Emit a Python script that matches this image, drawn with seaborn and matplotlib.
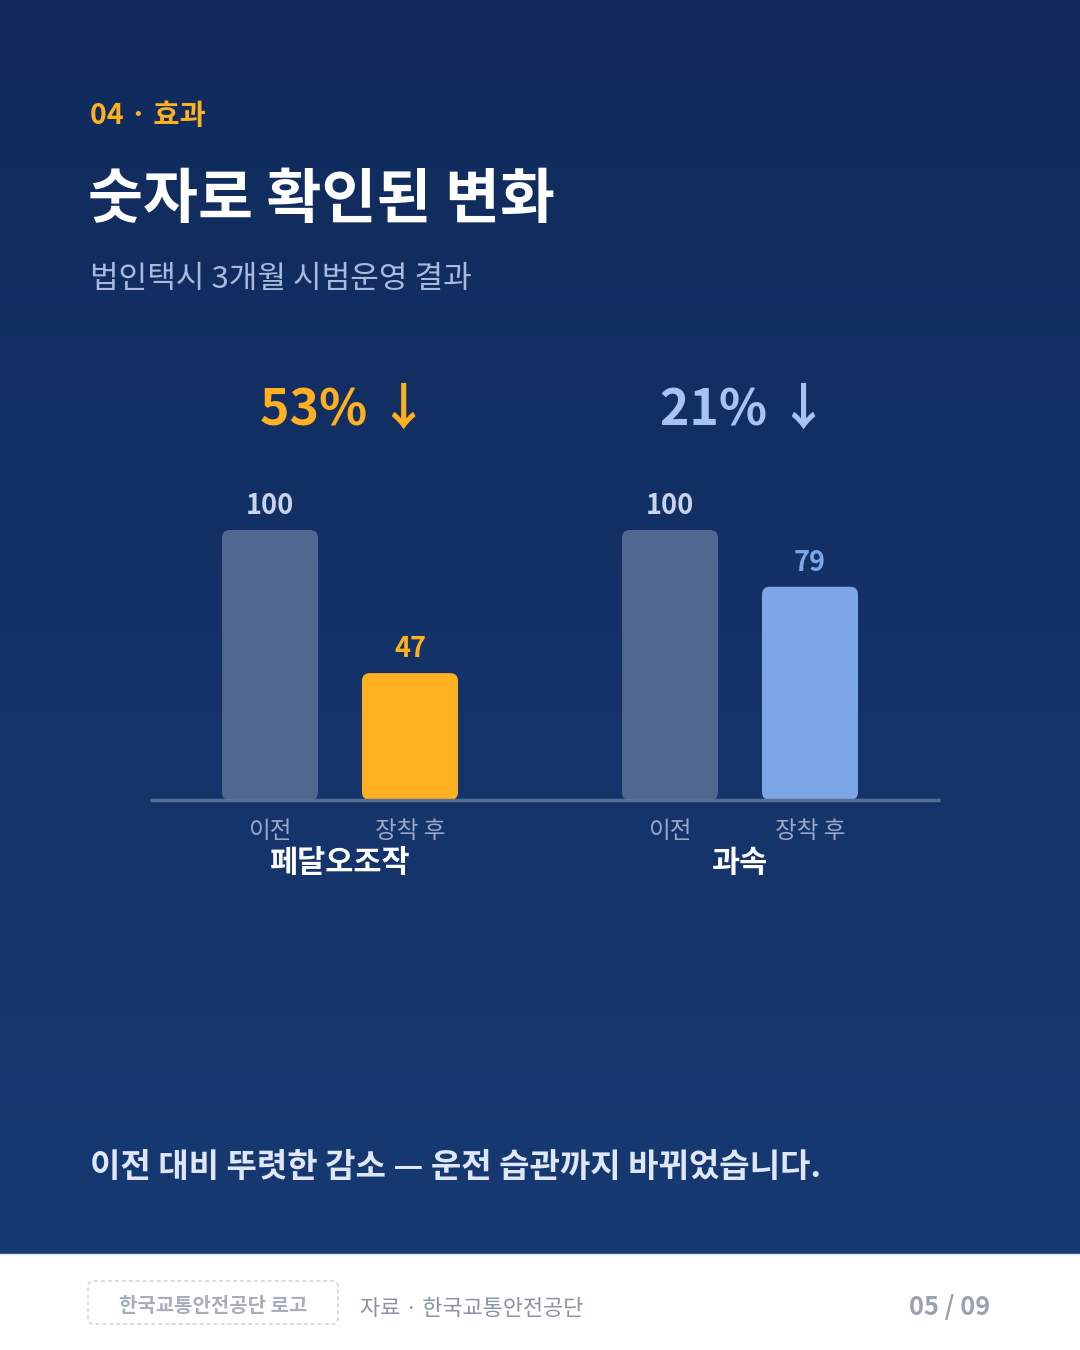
import matplotlib.pyplot as plt
import numpy as np
import pandas as pd
import seaborn as sns
from matplotlib.colors import LinearSegmentedColormap
from matplotlib.patches import FancyBboxPatch, Rectangle

# chart data
groups = ["페달오조작", "과속"]
stages = ["이전", "장착 후"]
before_values = [100, 100]
after_values = [47, 79]

# colours
before_color = "#50688f"
after_colors = ["#ffb020", "#7da6e6"]
pct_colors = ["#ffb020", "#a7c3f5"]
value_colors = ["#c9d4ea", "#ffb020", "#c9d4ea", "#7da6e6"]

sns.set_theme(style="white")
plt.rcParams["font.family"] = ["Noto Sans CJK KR", "DejaVu Sans"]

df = pd.DataFrame({
    "group": groups * 2,
    "stage": [stages[0]] * len(groups) + [stages[1]] * len(groups),
    "value": before_values + after_values,
})

fig = plt.figure(figsize=(10.8, 13.5), dpi=100)

# background in pixel coordinates
bg = fig.add_axes([0, 0, 1, 1])
bg.set_xlim(0, 1080)
bg.set_ylim(1350, 0)
bg.axis("off")
cmap = LinearSegmentedColormap.from_list("navy", ["#102a5c", "#183b74"])
grad = np.linspace(0, 1, 256).reshape(-1, 1)
bg.imshow(grad, cmap=cmap, aspect="auto", extent=[0, 1080, 1350, 0], zorder=0)

# footer
bg.add_patch(Rectangle((0, 1254), 1080, 96, fc="white", ec="none", zorder=1))
bg.plot([0, 1080], [1254, 1254], color="#dbe3f0", lw=1, zorder=2)
bg.add_patch(FancyBboxPatch((88, 1281), 250, 43, boxstyle="round,pad=0,rounding_size=6",
                            fc="none", ec="#c9ced8", lw=1, ls=(0, (3, 2)), zorder=2))
bg.text(213, 1306, "한국교통안전공단 로고", ha="center", va="center", fontsize=14.4,
        color="#a7aebb", fontweight="bold", zorder=3)
bg.text(360, 1309, "자료 · 한국교통안전공단", ha="left", va="center", fontsize=15.8,
        color="#8a93a3", zorder=3)
bg.text(990, 1308, "05 / 09", ha="right", va="center", fontsize=18.3,
        color="#9aa2b1", fontweight="bold", zorder=3)

# header
bg.text(90, 116, "04 · 효과", ha="left", va="center", fontsize=20.5,
        color="#ffb020", fontweight="bold")
bg.text(88, 201, "숫자로 확인된 변화", ha="left", va="center", fontsize=43,
        color="white", fontweight="heavy")
bg.text(90, 280, "법인택시 3개월 시범운영 결과", ha="left", va="center", fontsize=22.4,
        color="#a9badd", fontweight="medium")

# closing line
bg.text(90, 1168, "이전 대비 뚜렷한 감소 — 운전 습관까지 바뀌었습니다.", ha="left",
        va="center", fontsize=23.8, color="#dfe6f5", fontweight="bold")

# chart axes: baseline at y=800 px, 0..120 over 324 px
ax = fig.add_axes([150 / 1080, (1350 - 800) / 1350, 790 / 1080, 324 / 1350])
ax.set_facecolor("none")
sns.barplot(data=df, x="group", y="value", hue="stage", order=groups, hue_order=stages,
            palette=[before_color, after_colors[0]], width=0.7, gap=0.314,
            legend=False, ax=ax)
ax.set_xlim(-0.475, 1.5)
ax.set_ylim(0, 120)
ax.axis("off")

# rounded bars
px_x = 1 / 400
px_y = 120 / 324
radius = 8
bars = sorted(list(ax.patches), key=lambda p: p.get_x())
for i, p in enumerate(bars):
    x, w, h = p.get_x(), p.get_width(), p.get_height()
    color = before_color if i % 2 == 0 else after_colors[i // 2]
    p.remove()
    ax.add_patch(FancyBboxPatch((x, 0), w, h,
                                boxstyle=f"round,pad=0,rounding_size={radius * px_x}",
                                mutation_aspect=px_y / px_x, fc=color, ec="none",
                                zorder=2, clip_on=False))
    cx = x + w / 2
    ax.annotate(f"{h:.0f}", xy=(cx, h), xytext=(0, 24), textcoords="offset pixels",
                ha="center", va="center", fontsize=19.5, fontweight="bold",
                color=value_colors[i], annotation_clip=False)
    ax.annotate(stages[i % 2], xy=(cx, 0), xytext=(0, -31), textcoords="offset pixels",
                ha="center", va="center", fontsize=17, color="#9aa9c8",
                annotation_clip=False)

# baseline
ax.plot([-0.475, 1.5], [0, 0], color="#566d94", lw=2.5, zorder=3, clip_on=False,
        solid_capstyle="butt")

# group labels and reductions
for i, g in enumerate(groups):
    ax.annotate(g, xy=(i, 0), xytext=(0, -63), textcoords="offset pixels",
                ha="center", va="center", fontsize=22, fontweight="bold",
                color="white", annotation_clip=False)
    drop = round((before_values[i] - after_values[i]) / before_values[i] * 100)
    ax.annotate(f"{drop}% ↓", xy=(i, 0), xytext=(4, 390), textcoords="offset pixels",
                ha="center", va="center", fontsize=36, fontweight="bold",
                color=pct_colors[i], annotation_clip=False)

fig.savefig("out.png", dpi=100)
